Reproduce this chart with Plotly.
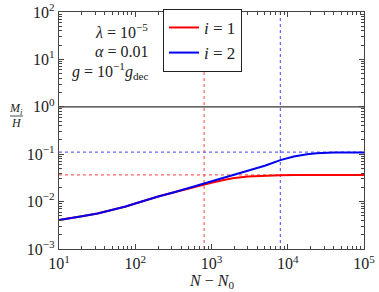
import plotly.graph_objects as go

# Data
N = [10, 15, 20, 32, 50, 75, 100, 150, 200, 324, 500, 708, 1000, 1500, 1900, 3000, 5000, 8000, 12000, 18000, 24000, 40000, 100000]
M_i2 = [0.0041, 0.0045, 0.0049, 0.0056, 0.0066, 0.0079, 0.0091, 0.0112, 0.0128, 0.0158, 0.0193, 0.0230, 0.0268, 0.0320, 0.0355, 0.0440, 0.0570, 0.0750, 0.0890, 0.0995, 0.1050, 0.1080, 0.1090]
M_i1 = [0.0041, 0.0045, 0.0049, 0.0056, 0.0066, 0.0079, 0.0091, 0.0112, 0.0128, 0.0158, 0.0191, 0.0222, 0.0250, 0.0288, 0.0310, 0.0337, 0.0354, 0.0360, 0.0362, 0.0362, 0.0362, 0.0362, 0.0362]

N_dec_1 = 800      # red dotted vertical
N_dec_2 = 8000     # blue dotted vertical
M_sat_1 = 0.0365   # red dotted horizontal
M_sat_2 = 0.111    # blue dotted horizontal
ref_level = 1.0    # black horizontal

x_range = [10, 100000]
y_range = [0.001, 100]
x_ticks = [10, 100, 1000, 10000, 100000]
x_ticklabels = ["10<sup>1</sup>", "10<sup>2</sup>", "10<sup>3</sup>", "10<sup>4</sup>", "10<sup>5</sup>"]
y_ticks = [0.001, 0.01, 0.1, 1, 10, 100]
y_ticklabels = ["10<sup>−3</sup>", "10<sup>−2</sup>", "10<sup>−1</sup>", "10<sup>0</sup>", "10<sup>1</sup>", "10<sup>2</sup>"]

x_minor = [m * 10 ** e for e in range(1, 5) for m in range(2, 10)]
y_minor = [m * 10.0 ** e for e in range(-3, 2) for m in range(2, 10)]

FONT = "Liberation Serif, serif"
AXC = "#444444"
TXT = "#222222"

fig = go.Figure()

# reference lines
fig.add_trace(go.Scatter(x=x_range, y=[ref_level, ref_level], mode="lines",
                         line=dict(color="#333333", width=1.2), showlegend=False, hoverinfo="skip"))
fig.add_trace(go.Scatter(x=[N_dec_1, N_dec_1], y=y_range, mode="lines",
                         line=dict(color="rgba(255,60,60,0.8)", width=1.2, dash="dot"), showlegend=False))
fig.add_trace(go.Scatter(x=[N_dec_2, N_dec_2], y=y_range, mode="lines",
                         line=dict(color="rgba(60,60,255,0.8)", width=1.2, dash="dot"), showlegend=False))
fig.add_trace(go.Scatter(x=x_range, y=[M_sat_1, M_sat_1], mode="lines",
                         line=dict(color="rgba(255,60,60,0.8)", width=1.2, dash="dot"), showlegend=False))
fig.add_trace(go.Scatter(x=x_range, y=[M_sat_2, M_sat_2], mode="lines",
                         line=dict(color="rgba(60,60,255,0.8)", width=1.2, dash="dot"), showlegend=False))

# curves
fig.add_trace(go.Scatter(x=N, y=M_i1, mode="lines", name="<i>i</i> = 1",
                         line=dict(color="#ff0000", width=2)))
fig.add_trace(go.Scatter(x=N, y=M_i2, mode="lines", name="<i>i</i> = 2",
                         line=dict(color="#0000ee", width=2)))

axis_common = dict(
    type="log", showline=True, linecolor=AXC, linewidth=1.2, mirror="allticks",
    ticks="inside", ticklen=5, tickcolor=AXC, tickwidth=1, showgrid=False, zeroline=False,
    tickfont=dict(family=FONT, size=16, color=TXT), automargin=False,
)

fig.update_layout(
    width=379, height=292,
    margin=dict(l=59, r=15, t=12, b=43, autoexpand=False),
    paper_bgcolor="white", plot_bgcolor="white",
    font=dict(family=FONT, color=TXT),
    xaxis=dict(axis_common, range=[1, 5], tickvals=x_ticks, ticktext=x_ticklabels,
               minor=dict(ticks="inside", ticklen=2.5, tickcolor=AXC, tickwidth=1, tickmode="array", tickvals=x_minor, showgrid=False)),
    yaxis=dict(axis_common, range=[-3, 2], tickvals=y_ticks, ticktext=y_ticklabels,
               minor=dict(ticks="inside", ticklen=2.5, tickcolor=AXC, tickwidth=1, tickmode="array", tickvals=y_minor, showgrid=False)),
    legend=dict(x=0.341, y=1.013, xanchor="left", yanchor="top",
                bgcolor="white", bordercolor="#222222", borderwidth=1,
                font=dict(family=FONT, size=17, color=TXT)),
    showlegend=True,
)

def px_to_paper(px, py):
    return (px - 59) / 305.0, (249 - py) / 237.0

# x-axis title
tx, ty = px_to_paper(211, 281)
fig.add_annotation(x=tx, y=ty, xref="paper", yref="paper", text="<i>N</i> − <i>N</i><sub>0</sub>",
                   showarrow=False, font=dict(family=FONT, size=16, color=TXT),
                   xanchor="center", yanchor="middle")

# parameter text
ann_font = dict(family=FONT, size=16, color=TXT)
for txt, py in [("<i>λ</i> = 10<sup>−5</sup>", 31), ("<i>α</i> = 0.01", 51),
                ("<i>g</i> = 10<sup>−1</sup><i>g</i><sub>dec</sub>", 71)]:
    ax, ay = px_to_paper(150, py)
    fig.add_annotation(x=ax, y=ay, xref="paper", yref="paper", text=txt, showarrow=False,
                       font=ann_font, xanchor="right", yanchor="middle")

# y-axis label as a fraction
fx, fy_num = px_to_paper(16, 109)
_, fy_den = px_to_paper(16, 123)
fig.add_annotation(x=fx, y=fy_num, xref="paper", yref="paper", text="<i>M<sub>i</sub></i>", showarrow=False,
                   font=dict(family=FONT, size=12, color=TXT), xanchor="center", yanchor="middle")
fig.add_annotation(x=fx, y=fy_den, xref="paper", yref="paper", text="<i>H</i>", showarrow=False,
                   font=dict(family=FONT, size=12, color=TXT), xanchor="center", yanchor="middle")
lx0, ly = px_to_paper(10, 116)
lx1, _ = px_to_paper(23, 116)
fig.add_shape(type="line", xref="paper", yref="paper", x0=lx0, x1=lx1, y0=ly, y1=ly,
              line=dict(color=TXT, width=0.8))

fig.write_html("out.html", config={"displayModeBar": False},
               post_script="document.body.style.margin='0px';document.body.style.overflow='hidden';")
